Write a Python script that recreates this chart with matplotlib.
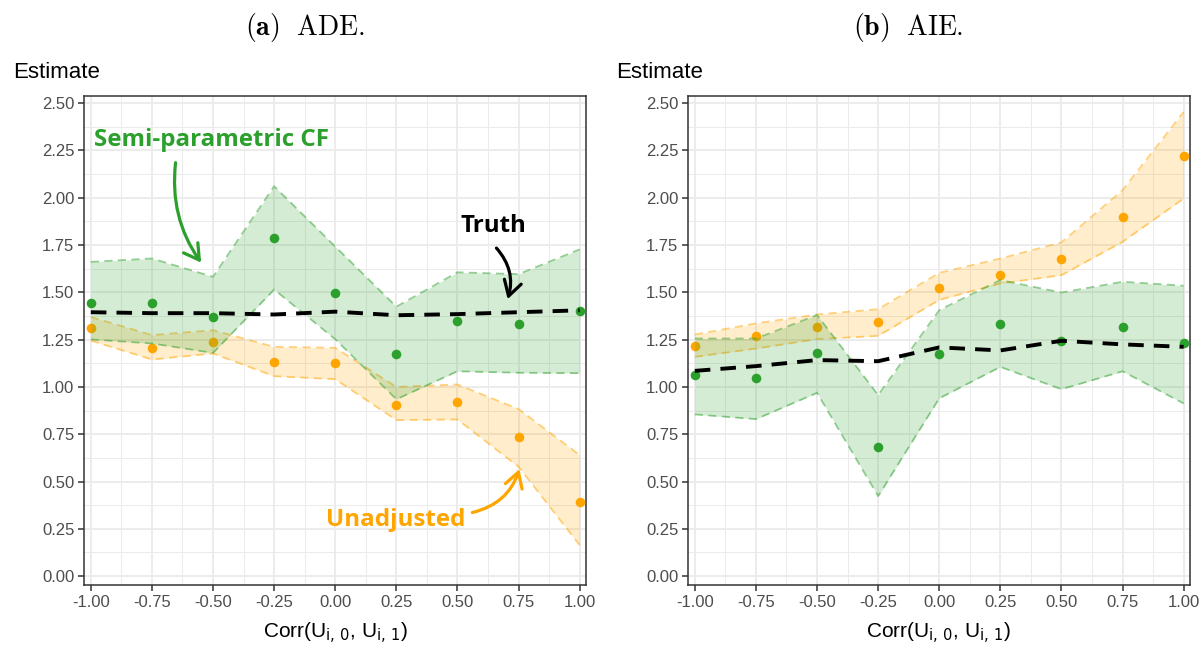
import matplotlib
matplotlib.use("Agg")
import matplotlib.pyplot as plt
from matplotlib.patches import FancyArrowPatch
from matplotlib.ticker import MultipleLocator

# x grid of correlations
corr = [-1.0, -0.75, -0.5, -0.25, 0.0, 0.25, 0.5, 0.75, 1.0]
tick_labels = ["-1.00", "-0.75", "-0.50", "-0.25", "0.00", "0.25", "0.50", "0.75", "1.00"]
y_ticks = [0.0, 0.25, 0.5, 0.75, 1.0, 1.25, 1.5, 1.75, 2.0, 2.25, 2.5]

# (a) ADE
ade_truth = [1.395, 1.39, 1.39, 1.383, 1.398, 1.379, 1.385, 1.395, 1.405]
ade_cf = [1.445, 1.445, 1.37, 1.785, 1.497, 1.172, 1.349, 1.334, 1.403]
ade_cf_lo = [1.251, 1.230, 1.180, 1.515, 1.252, 0.935, 1.083, 1.075, 1.073]
ade_cf_hi = [1.661, 1.679, 1.582, 2.061, 1.742, 1.424, 1.606, 1.596, 1.727]
ade_un = [1.312, 1.207, 1.239, 1.131, 1.127, 0.907, 0.918, 0.733, 0.393]
ade_un_lo = [1.245, 1.145, 1.177, 1.057, 1.041, 0.825, 0.828, 0.578, 0.164]
ade_un_hi = [1.370, 1.274, 1.300, 1.212, 1.207, 1.000, 1.013, 0.883, 0.640]

# (b) AIE
aie_truth = [1.085, 1.110, 1.142, 1.136, 1.209, 1.193, 1.244, 1.225, 1.212]
aie_cf = [1.061, 1.045, 1.182, 0.682, 1.173, 1.334, 1.244, 1.318, 1.230]
aie_cf_lo = [0.855, 0.830, 0.969, 0.423, 0.940, 1.106, 0.988, 1.083, 0.913]
aie_cf_hi = [1.256, 1.256, 1.380, 0.957, 1.406, 1.565, 1.499, 1.556, 1.535]
aie_un = [1.214, 1.270, 1.316, 1.341, 1.524, 1.594, 1.675, 1.901, 2.222]
aie_un_lo = [1.159, 1.203, 1.253, 1.270, 1.460, 1.547, 1.591, 1.767, 1.996]
aie_un_hi = [1.277, 1.336, 1.383, 1.411, 1.603, 1.679, 1.764, 2.040, 2.454]

GREEN = "#2CA02C"
ORANGE = "#FFA500"

plt.rcParams["font.family"] = ["Liberation Sans", "DejaVu Sans"]
plt.rcParams["mathtext.fontset"] = "cm"

fig = plt.figure(figsize=(12.04, 6.46), dpi=100)
ax1 = fig.add_axes([84 / 1204, 1 - 585 / 646, 502 / 1204, 489 / 646])
ax2 = fig.add_axes([688 / 1204, 1 - 585 / 646, 502 / 1204, 489 / 646])


def draw_panel(ax, truth, cf, cf_lo, cf_hi, un, un_lo, un_hi):
    # unadjusted first, then CF band on top
    ax.fill_between(corr, un_lo, un_hi, color=ORANGE, alpha=0.2, lw=0, zorder=2)
    ax.plot(corr, un_lo, color=ORANGE, alpha=0.5, lw=1.3, dashes=(4.5, 3), zorder=3)
    ax.plot(corr, un_hi, color=ORANGE, alpha=0.5, lw=1.3, dashes=(4.5, 3), zorder=3)
    ax.scatter(corr, un, s=48, color=ORANGE, lw=0, zorder=4)
    ax.fill_between(corr, cf_lo, cf_hi, color=GREEN, alpha=0.2, lw=0, zorder=5)
    ax.plot(corr, cf_lo, color=GREEN, alpha=0.5, lw=1.3, dashes=(4.5, 3), zorder=6)
    ax.plot(corr, cf_hi, color=GREEN, alpha=0.5, lw=1.3, dashes=(4.5, 3), zorder=6)
    ax.scatter(corr, cf, s=48, color=GREEN, lw=0, zorder=7)
    ax.plot(corr, truth, color="black", lw=2.8, dashes=(4, 2.6), zorder=8)

    ax.set_xlim(-1.028, 1.026)
    ax.set_ylim(-0.047, 2.538)
    ax.set_xticks(corr)
    ax.set_xticklabels(tick_labels)
    ax.set_yticks(y_ticks)
    ax.set_yticklabels(["%.2f" % v for v in y_ticks])
    ax.xaxis.set_minor_locator(MultipleLocator(0.125))
    ax.yaxis.set_minor_locator(MultipleLocator(0.125))
    ax.grid(which="major", color="#EBEBEB", lw=1.3, zorder=0)
    ax.grid(which="minor", color="#EBEBEB", lw=0.7, zorder=0)
    ax.set_axisbelow(True)
    ax.tick_params(which="major", length=4, width=1.1, color="#333333",
                   labelsize=12, labelcolor="#4D4D4D", pad=3)
    ax.tick_params(which="minor", length=0)
    for s in ax.spines.values():
        s.set_color("#333333")
        s.set_linewidth(1.1)


draw_panel(ax1, ade_truth, ade_cf, ade_cf_lo, ade_cf_hi, ade_un, ade_un_lo, ade_un_hi)
draw_panel(ax2, aie_truth, aie_cf, aie_cf_lo, aie_cf_hi, aie_un, aie_un_lo, aie_un_hi)

# axis titles
xlab = r"Corr(U$_\mathsf{i,\,0}$, U$_\mathsf{i,\,1}$)"
for cx, tx in ((335, 13), (938, 616)):
    fig.text(cx / 1204, 1 - 633 / 646, xlab, ha="center", va="center",
             fontsize=15, math_fontfamily="dejavusans")
    fig.text(tx / 1204, 1 - 72 / 646, "Estimate", ha="left", va="center", fontsize=16)

# panel titles
fig.text(305 / 1204, 1 - 27 / 646, r"$\mathbf{(a)}\ \ \mathrm{ADE.}$", ha="center",
         va="center", fontsize=20)
fig.text(908 / 1204, 1 - 27 / 646, r"$\mathbf{(b)}\ \ \mathrm{AIE.}$", ha="center",
         va="center", fontsize=20)

# annotations on panel (a)
bold = dict(family=["Open Sans", "DejaVu Sans"], weight="bold", fontsize=17.4)
ax1.text(-0.988, 2.304, "Semi-parametric CF", color=GREEN, ha="left", va="center", **bold)
ax1.text(0.648, 1.85, "Truth", color="black", ha="center", va="center", **bold)
ax1.text(0.247, 0.296, "Unadjusted", color=ORANGE, ha="center", va="center", **bold)

arrows = [
    ((-0.652, 2.20), (-0.542, 1.645), GREEN, 0.2),
    ((0.652, 1.745), (0.702, 1.45), "black", -0.3),
    ((0.55, 0.333), (0.757, 0.58), ORANGE, 0.3),
]
for start, end, col, rad in arrows:
    ax1.add_patch(FancyArrowPatch(start, end, connectionstyle="arc3,rad=%s" % rad,
                                  arrowstyle="->,head_length=0.6,head_width=0.35",
                                  color=col, lw=2.3, mutation_scale=18, zorder=10))

fig.savefig("out.png", dpi=100)
